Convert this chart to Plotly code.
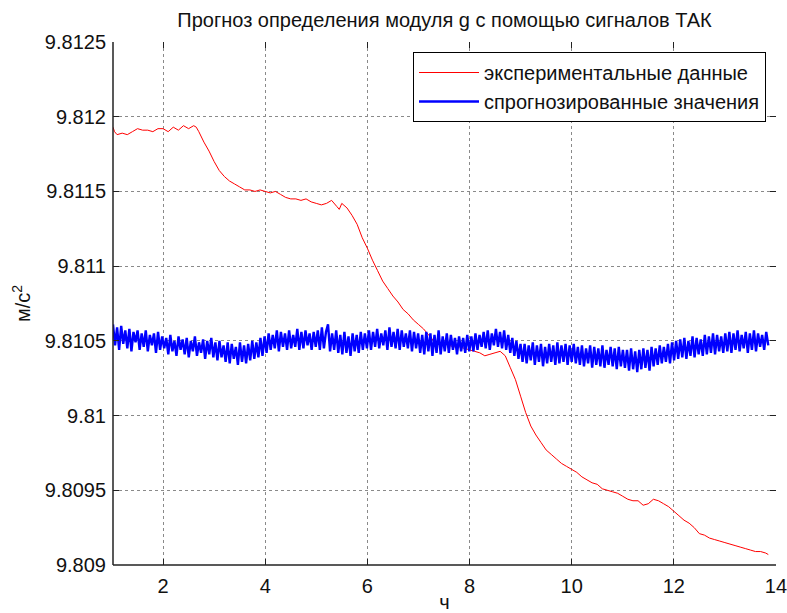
import numpy as np
import plotly.graph_objects as go

# ---------------- data ----------------
title_text = "Прогноз определения модуля g с помощью сигналов ТАК"
x_label = "ч"
y_label = "м/с<sup>2</sup>"
series_names = ["экспериментальные данные", "спрогнозированные значения"]

x_ticks = [2, 4, 6, 8, 10, 12, 14]
y_ticks = [9.809, 9.8095, 9.81, 9.8105, 9.811, 9.8115, 9.812, 9.8125]
y_tick_labels = ["9.809", "9.8095", "9.81", "9.8105", "9.811", "9.8115", "9.812", "9.8125"]

# experimental data (hours, m/s^2)
exp_t = [1.02, 1.05, 1.10, 1.2, 1.3, 1.4, 1.5, 1.6, 1.7, 1.8, 1.9, 2.0, 2.1, 2.2, 2.3, 2.4, 2.5,
         2.6, 2.65, 2.7, 2.8, 2.9, 3.0, 3.1, 3.2, 3.3, 3.4, 3.5, 3.6, 3.7, 3.8, 3.9, 4.0, 4.1,
         4.2, 4.3, 4.4, 4.5, 4.6, 4.7, 4.8, 4.9, 5.0, 5.1, 5.2, 5.3, 5.4, 5.45, 5.5, 5.6, 5.7,
         5.8, 5.9, 6.0, 6.1, 6.2, 6.3, 6.4, 6.5, 6.6, 6.7, 6.8, 6.9, 7.0, 7.1, 7.2, 7.3, 7.4,
         7.5, 7.6, 7.7, 7.8, 7.9, 8.0, 8.1, 8.2, 8.3, 8.4, 8.5, 8.6, 8.7, 8.8, 8.9, 9.0, 9.1,
         9.2, 9.3, 9.4, 9.5, 9.6, 9.7, 9.8, 9.9, 10.0, 10.1, 10.2, 10.3, 10.4, 10.5, 10.6, 10.7,
         10.8, 10.9, 11.0, 11.1, 11.2, 11.3, 11.4, 11.5, 11.6, 11.7, 11.8, 11.9, 12.0, 12.1,
         12.2, 12.3, 12.4, 12.5, 12.6, 12.7, 12.8, 12.9, 13.0, 13.1, 13.2, 13.3, 13.4, 13.5,
         13.6, 13.7, 13.8, 13.85]
exp_g = [9.81193, 9.81190, 9.81188, 9.81189, 9.81188, 9.81190, 9.81192, 9.81191, 9.81191,
         9.81190, 9.81192, 9.81192, 9.81190, 9.81193, 9.81191, 9.81194, 9.81192, 9.81194,
         9.81193, 9.81190, 9.81183, 9.81177, 9.81170, 9.81164, 9.81160, 9.81157, 9.81155,
         9.81153, 9.81151, 9.81151, 9.81150, 9.81151, 9.81150, 9.81149, 9.81150, 9.81148,
         9.81146, 9.81145, 9.81145, 9.81144, 9.81145, 9.81143, 9.81142, 9.81141, 9.81142,
         9.81144, 9.81140, 9.81138, 9.81142, 9.81139, 9.81134, 9.81128, 9.81119, 9.81112,
         9.81104, 9.81097, 9.81090, 9.81085, 9.81080, 9.81076, 9.81071, 9.81068, 9.81064,
         9.81061, 9.81058, 9.81054, 9.81050, 9.81049, 9.81048, 9.81047, 9.81046, 9.81046,
         9.81045, 9.81044, 9.81043, 9.81042, 9.81040, 9.81041, 9.81042, 9.81043, 9.81040,
         9.81032, 9.81024, 9.81013, 9.81002, 9.80993, 9.80987, 9.80982, 9.80977, 9.80974,
         9.80971, 9.80968, 9.80966, 9.80964, 9.80962, 9.80959, 9.80957, 9.80955, 9.80954,
         9.80951, 9.80950, 9.80949, 9.80948, 9.80946, 9.80944, 9.80943, 9.80943, 9.80940,
         9.80941, 9.80944, 9.80943, 9.80941, 9.80939, 9.80936, 9.80933, 9.80930, 9.80928,
         9.80925, 9.80921, 9.80920, 9.80918, 9.80917, 9.80916, 9.80915, 9.80914, 9.80913,
         9.80912, 9.80911, 9.80910, 9.80909, 9.80909, 9.80908, 9.80907]

# predicted values, uniformly sampled from t_start to t_end (hours)
pred_t_start = 1.02
pred_t_end = 13.85
pred_g = [
    # t 1.02 - 2.02
    9.81061, 9.81047, 9.81059, 9.81044, 9.81060, 9.81048, 9.81057, 9.81045, 9.81058, 9.81043,
    9.81056, 9.81049, 9.81057, 9.81044, 9.81055, 9.81046, 9.81057, 9.81043, 9.81054, 9.81047,
    9.81055, 9.81042, 9.81056, 9.81044, 9.81053,
    # t 2.02 - 3.02
    9.81045, 9.81052, 9.81041, 9.81054, 9.81043, 9.81050, 9.81040, 9.81053, 9.81044, 9.81051,
    9.81041, 9.81052, 9.81039, 9.81050, 9.81043, 9.81053, 9.81040, 9.81049, 9.81042, 9.81051,
    9.81038, 9.81050, 9.81041, 9.81052, 9.81039,
    # t 3.02 - 4.02
    9.81049, 9.81037, 9.81050, 9.81039, 9.81047, 9.81036, 9.81049, 9.81035, 9.81048, 9.81038,
    9.81046, 9.81034, 9.81049, 9.81036, 9.81047, 9.81035, 9.81048, 9.81037, 9.81050, 9.81038,
    9.81049, 9.81039, 9.81052, 9.81040, 9.81053,
    # t 4.02 - 5.02
    9.81042, 9.81055, 9.81044, 9.81054, 9.81045, 9.81057, 9.81043, 9.81056, 9.81046, 9.81055,
    9.81044, 9.81057, 9.81045, 9.81054, 9.81046, 9.81058, 9.81044, 9.81056, 9.81045, 9.81057,
    9.81047, 9.81055, 9.81044, 9.81056, 9.81046,
    # t 5.02 - 6.02
    9.81057, 9.81044, 9.81059, 9.81045, 9.81056, 9.81061, 9.81043, 9.81055, 9.81044, 9.81057,
    9.81042, 9.81054, 9.81041, 9.81056, 9.81042, 9.81053, 9.81040, 9.81055, 9.81043, 9.81054,
    9.81042, 9.81056, 9.81044, 9.81055, 9.81045,
    # t 6.02 - 7.02
    9.81057, 9.81044, 9.81056, 9.81046, 9.81058, 9.81045, 9.81055, 9.81047, 9.81057, 9.81044,
    9.81059, 9.81046, 9.81056, 9.81045, 9.81058, 9.81044, 9.81057, 9.81046, 9.81055, 9.81045,
    9.81057, 9.81043, 9.81056, 9.81045, 9.81055,
    # t 7.02 - 8.02
    9.81042, 9.81054, 9.81041, 9.81056, 9.81043, 9.81055, 9.81040, 9.81054, 9.81042, 9.81057,
    9.81041, 9.81053, 9.81043, 9.81055, 9.81042, 9.81054, 9.81044, 9.81052, 9.81041, 9.81053,
    9.81043, 9.81052, 9.81042, 9.81054, 9.81043,
    # t 8.02 - 9.02
    9.81053, 9.81043, 9.81055, 9.81044, 9.81054, 9.81046, 9.81056, 9.81045, 9.81057, 9.81044,
    9.81055, 9.81047, 9.81058, 9.81046, 9.81056, 9.81045, 9.81057, 9.81044, 9.81054, 9.81042,
    9.81052, 9.81040, 9.81050, 9.81038, 9.81048,
    # t 9.02 - 10.02
    9.81036, 9.81048, 9.81035, 9.81047, 9.81037, 9.81049, 9.81034, 9.81047, 9.81036, 9.81048,
    9.81033, 9.81046, 9.81035, 9.81048, 9.81036, 9.81047, 9.81034, 9.81049, 9.81035, 9.81047,
    9.81036, 9.81048, 9.81034, 9.81047, 9.81036,
    # t 10.02 - 11.02
    9.81048, 9.81035, 9.81046, 9.81034, 9.81047, 9.81033, 9.81045, 9.81035, 9.81047, 9.81032,
    9.81046, 9.81034, 9.81045, 9.81033, 9.81047, 9.81032, 9.81044, 9.81034, 9.81046, 9.81033,
    9.81045, 9.81031, 9.81046, 9.81033, 9.81044,
    # t 11.02 - 12.02
    9.81032, 9.81044, 9.81030, 9.81045, 9.81031, 9.81043, 9.81029, 9.81044, 9.81031, 9.81045,
    9.81032, 9.81044, 9.81030, 9.81046, 9.81033, 9.81045, 9.81034, 9.81047, 9.81035, 9.81046,
    9.81036, 9.81048, 9.81035, 9.81049, 9.81037,
    # t 12.02 - 13.02
    9.81050, 9.81038, 9.81051, 9.81039, 9.81052, 9.81038, 9.81050, 9.81040, 9.81053, 9.81039,
    9.81052, 9.81041, 9.81051, 9.81040, 9.81054, 9.81041, 9.81053, 9.81042, 9.81055, 9.81041,
    9.81054, 9.81043, 9.81053, 9.81042, 9.81055,
    # t 13.02 - 13.85
    9.81043, 9.81056, 9.81042, 9.81055, 9.81044, 9.81057, 9.81043, 9.81054, 9.81045, 9.81056,
    9.81042, 9.81055, 9.81044, 9.81057, 9.81043, 9.81055, 9.81046, 9.81054, 9.81044, 9.81056,
    9.81047,
]
pred_t = np.linspace(pred_t_start, pred_t_end, len(pred_g))

x_range = [1.02, 14.001]
y_range = [9.809, 9.8125]

# ---------------- figure ----------------
FONT = "Arial, 'Liberation Sans', Helvetica, sans-serif"
FS = 20

fig = go.Figure()
fig.add_trace(go.Scatter(x=exp_t, y=exp_g, mode="lines", name=series_names[0],
                         line=dict(color="#ff0000", width=1, simplify=False)))
fig.add_trace(go.Scatter(x=pred_t, y=pred_g, mode="lines", name=series_names[1],
                         line=dict(color="#0000ff", width=2.4, simplify=False)))

axis_common = dict(
    showline=True, linecolor="rgba(0,0,0,0)", linewidth=1, automargin=False,
    mirror="ticks", ticks="inside", ticklen=6, tickwidth=1, ticklabeloverflow="allow",
    tickcolor="#222", showgrid=True, gridcolor="#8a8a8a", griddash="dot", gridwidth=1,
    zeroline=False, tickfont=dict(family=FONT, size=FS, color="#111"),
)

fig.update_layout(
    width=787, height=613,
    margin=dict(l=113, r=11, t=42, b=48, autoexpand=False),
    paper_bgcolor="white", plot_bgcolor="white",
    font=dict(family=FONT, size=FS, color="#111"),
    title=dict(text=title_text, x=(113 + 776) / 2 / 787, xanchor="center",
               y=1 - 20 / 613, yanchor="middle", yref="container",
               font=dict(family=FONT, size=FS, color="#111")),
    xaxis=dict(range=x_range, tickvals=x_ticks, ticktext=[str(v) for v in x_ticks],
               ticklabelstandoff=3,
               title=dict(text=x_label, standoff=12, font=dict(family=FONT, size=FS)),
               **axis_common),
    yaxis=dict(range=y_range, tickvals=y_ticks, ticktext=y_tick_labels,
               ticklabelstandoff=2,
               title=dict(text=y_label, standoff=8, font=dict(family=FONT, size=FS)),
               **axis_common),
    legend=dict(x=(766 - 113) / 663, xanchor="right", y=(564.5 - 52) / 522.5, yanchor="top",
                bordercolor="#000", borderwidth=1, bgcolor="white",
                font=dict(family=FONT, size=FS, color="#111"), itemwidth=60),
    showlegend=True,
)

# solid left and bottom axis lines
fig.add_shape(type="line", xref="paper", yref="paper", x0=0, x1=1, y0=0, y1=0,
              line=dict(color="#222", width=1.5))
fig.add_shape(type="line", xref="paper", yref="paper", x0=0, x1=0, y0=0, y1=1,
              line=dict(color="#222", width=1.5))

fig.write_html("out.html")
